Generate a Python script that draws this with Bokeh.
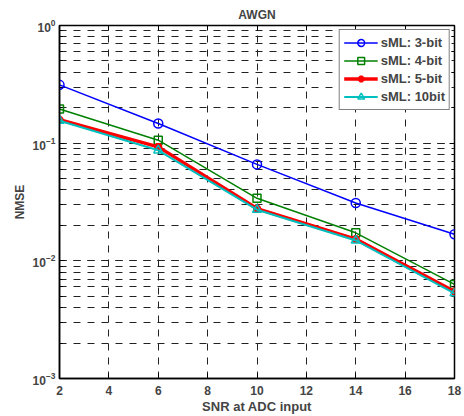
from bokeh.plotting import figure
from bokeh.models import FixedTicker, LogAxis, LinearAxis, LogTicker
from bokeh.embed import file_html
from bokeh.resources import INLINE

snr = [2, 6, 10, 14, 18]
nmse_3bit = [0.313, 0.147, 0.066, 0.031, 0.0168]
nmse_4bit = [0.195, 0.106, 0.034, 0.0173, 0.0063]
nmse_5bit = [0.158, 0.093, 0.0278, 0.0153, 0.0055]
nmse_10bit = [0.155, 0.087, 0.0272, 0.0149, 0.0053]
x_ticks = [2, 4, 6, 8, 10, 12, 14, 16, 18]

FONT = "Liberation Sans"

p = figure(width=464, height=416, y_axis_type="log", x_range=(2, 18), y_range=(1e-3, 1),
           output_backend="svg", toolbar_location=None,
           min_border_left=59, min_border_right=10, min_border_top=25, min_border_bottom=35)
p.title.text = "AWGN"
p.title.align = "center"
p.title.text_font = FONT
p.title.text_font_style = "bold"
p.title.text_font_size = "12px"
p.title.standoff = 8
p.outline_line_color = "black"
p.outline_line_width = 1.5
p.background_fill_color = "white"
p.border_fill_color = "white"

p.xaxis.ticker = FixedTicker(ticks=x_ticks)
for ax in [p.xaxis[0], p.yaxis[0]]:
    ax.major_tick_in = 5
    ax.major_tick_out = 0
    ax.minor_tick_in = 3
    ax.minor_tick_out = 0
    ax.axis_line_width = 1.5
    ax.major_label_text_font = FONT
    ax.major_label_text_font_style = "bold"
    ax.major_label_text_font_size = "12px"
    ax.axis_label_text_font = FONT
    ax.axis_label_text_font_style = "bold"
    ax.axis_label_text_font_size = "12px"
p.xaxis.axis_label_text_font_size = "13px"
p.xaxis.minor_tick_line_color = None
p.xaxis.axis_label = "SNR at ADC input"
p.yaxis.axis_label = "NMSE"
p.xaxis.major_label_standoff = 7
p.xaxis.axis_label_standoff = 1
p.yaxis.major_label_standoff = 4
p.yaxis.axis_label_standoff = 3

blue = "#0000ff"
green = "#008000"
red = "#ff0000"
cyan = "#00bfbf"

p.line(snr, nmse_3bit, line_color=blue, line_width=1.5, legend_label="sML: 3-bit")
p.scatter(snr, nmse_3bit, marker="circle", size=9, fill_color=None, line_color=blue, line_width=1.5,
          legend_label="sML: 3-bit")
p.line(snr, nmse_4bit, line_color=green, line_width=1.5, legend_label="sML: 4-bit")
p.scatter(snr, nmse_4bit, marker="square", size=8, fill_color=None, line_color=green, line_width=1.5,
          legend_label="sML: 4-bit")
p.line(snr, nmse_5bit, line_color=red, line_width=3.5, legend_label="sML: 5-bit")
p.scatter(snr, nmse_5bit, marker="asterisk", size=8, fill_color=red, line_color=red, line_width=3,
          legend_label="sML: 5-bit")
p.line(snr, nmse_10bit, line_color=cyan, line_width=2, legend_label="sML: 10bit")
p.scatter(snr, nmse_10bit, marker="triangle", size=9, fill_color=None, line_color=cyan, line_width=1.5,
          legend_label="sML: 10bit")

right = LogAxis(ticker=LogTicker(), major_tick_in=5, major_tick_out=0, minor_tick_in=3,
                minor_tick_out=0, major_label_text_font_size="1px", major_label_text_alpha=0,
                major_label_standoff=0, axis_line_color=None)
p.add_layout(right, "right")
top = LinearAxis(ticker=FixedTicker(ticks=x_ticks), major_tick_in=5, major_tick_out=0,
                 minor_tick_line_color=None, major_label_text_font_size="1px",
                 major_label_text_alpha=0, major_label_standoff=0, axis_line_color=None)
p.add_layout(top, "above")

for g in [p.xgrid[0], p.ygrid[0]]:
    g.grid_line_color = "#222222"
    g.grid_line_dash = "7 7"
    g.grid_line_width = 1
p.ygrid.minor_grid_line_color = "#222222"
p.ygrid.minor_grid_line_dash = "7 7"
p.ygrid.minor_grid_line_width = 1

lg = p.legend[0]
lg.location = "top_right"
lg.margin = 4
lg.padding = 4
lg.spacing = 1
lg.label_height = 17
lg.glyph_height = 17
lg.glyph_width = 34
lg.label_standoff = 3
lg.label_text_font = FONT
lg.label_text_font_style = "bold"
lg.label_text_font_size = "13px"
lg.border_line_color = "black"
lg.border_line_width = 1.5
lg.background_fill_alpha = 1

open("out.html", "w").write(file_html(p, INLINE))
